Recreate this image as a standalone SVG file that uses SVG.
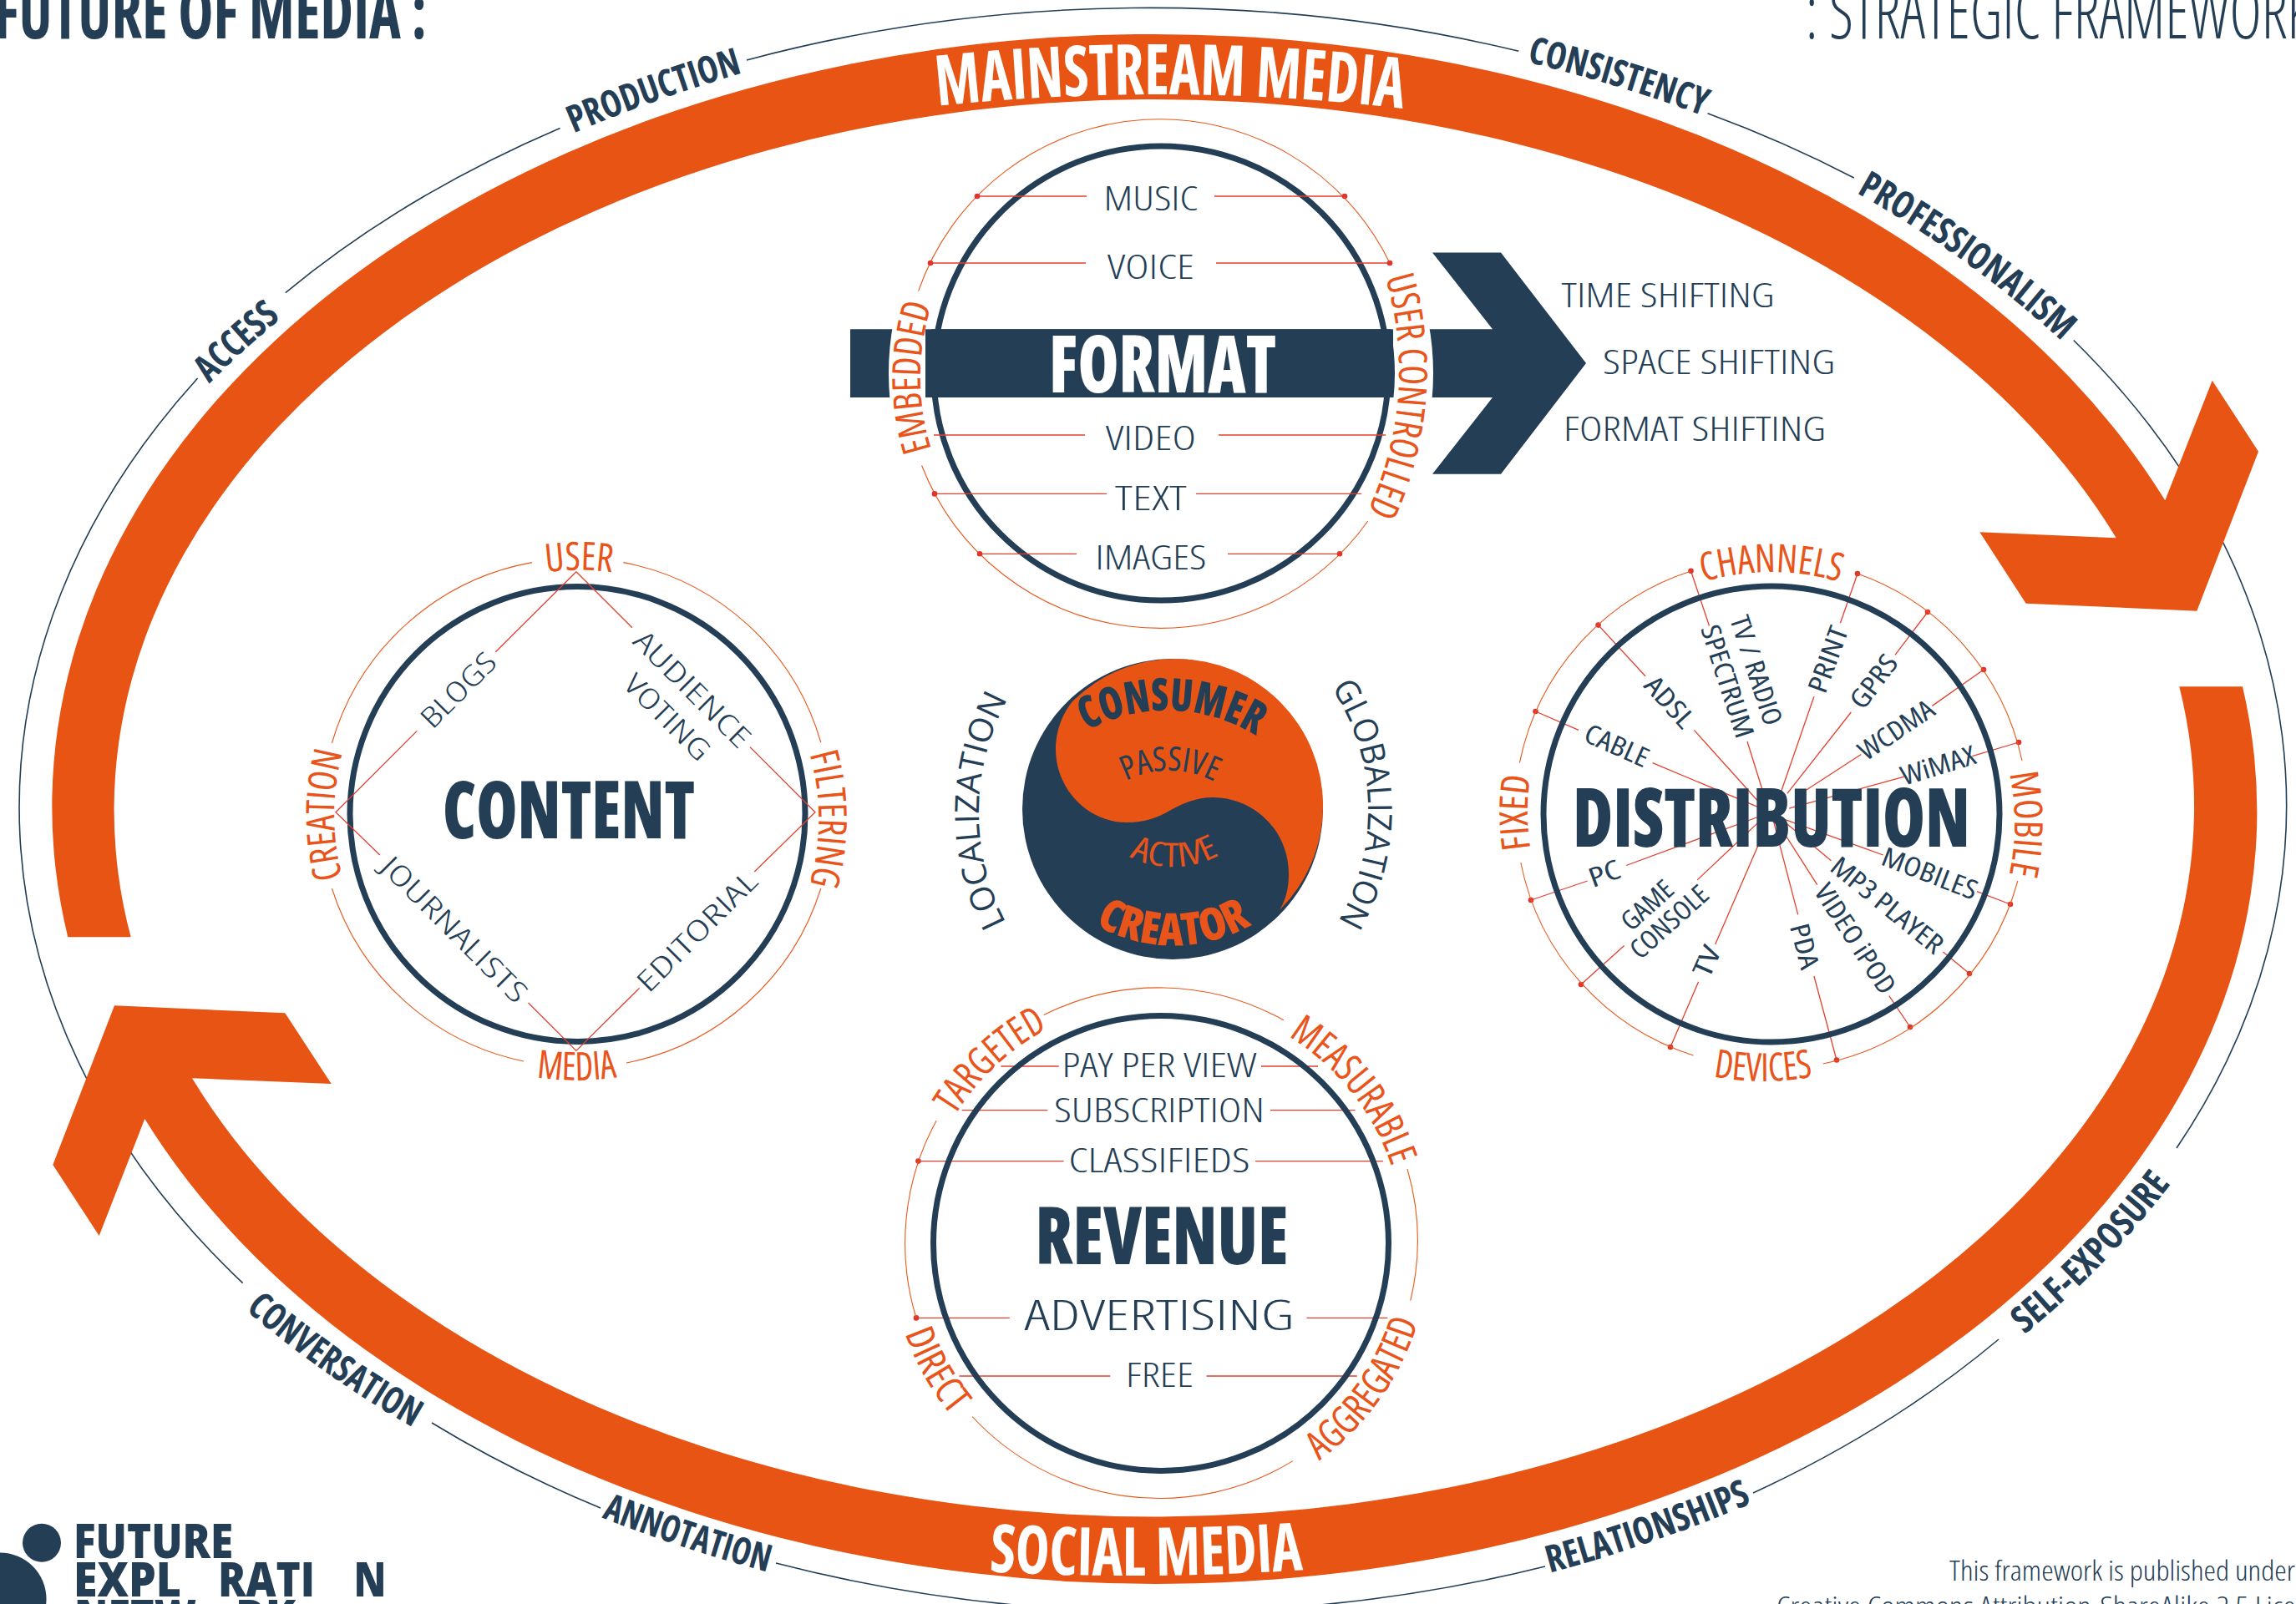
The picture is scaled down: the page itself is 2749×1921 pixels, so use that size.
<svg xmlns="http://www.w3.org/2000/svg" width="2749" height="1921" viewBox="0 0 2749 1921">
<style>
text{fill:#243e56;font-family:"Open Sans","Liberation Sans",sans-serif;text-anchor:middle}
.b{font-weight:700;font-stretch:75%}
.x{font-weight:800;font-stretch:75%}
.l{font-weight:300;font-stretch:75%}
.r{font-weight:400;font-stretch:75%}
.w{fill:#fff}
.o{fill:#e8541a}
.a{font-size:45px}
.n{font-size:40px}
.d{font-size:32px}
.e{font-size:34px}
.c{font-size:47px;font-weight:450}
.lg{font-weight:900;font-size:56px}
.ring{fill:none;stroke:#243e56;stroke-width:7}
.thin{fill:none;stroke:#e8581c;stroke-width:1.1}
.el{fill:none;stroke:#243e56;stroke-width:1.6}
.con{fill:none;stroke:#e4402e;stroke-width:1.3}
.dot{fill:#e0352b}
.band{fill:#e85413}
.navy{fill:#243e56}
</style>
<defs>
<path id="pAccess" d="M250 460A1150 1150 0 0 1 337 381"/>
<path id="pProd" d="M686 160A1800 1800 0 0 1 890 87"/>
<path id="pCons" d="M1827 74A1800 1800 0 0 1 2040 139"/>
<path id="pProf" d="M2221 230A1300 1300 0 0 1 2470 410"/>
<path id="pSelf" d="M2423 1599A1100 1100 0 0 0 2600 1417"/>
<path id="pRel" d="M1855 1884A1900 1900 0 0 0 2098 1800"/>
<path id="pAnn" d="M719 1817A1900 1900 0 0 0 920 1883"/>
<path id="pConv" d="M293 1568A1300 1300 0 0 0 495 1710"/>
<path id="pMain" d="M1122 127A2519 2519 0 0 1 1680 130"/>
<path id="pSoc" d="M1183 1882A3000 3000 0 0 0 1562 1880"/>
<path id="pEmb" d="M1140.6 596A288 288 0 0 1 1140.6 308"/>
<path id="pUC" d="M1642.5 288A391 391 0 0 1 1614 654"/>
<path id="pUser" d="M547 722A293 293 0 0 1 840 722"/>
<path id="pMedia" d="M531 1251A319 319 0 0 0 850 1251"/>
<path id="pCrea" d="M439.5 1122A291 291 0 0 1 439.5 830"/>
<path id="pFilt" d="M941.5 836.5A289 289 0 0 1 941.5 1125.5"/>
<path id="pChan" d="M1955 737.4A290 290 0 0 1 2287 737.4"/>
<path id="pDev" d="M1976 1265A320 320 0 0 0 2246 1265"/>
<path id="pFix" d="M1868 1118.5A291 291 0 0 1 1868 827.5"/>
<path id="pMob" d="M2373 841A292 292 0 0 1 2373 1133"/>
<path id="pTarg" d="M1121 1380A290 290 0 0 1 1300 1213"/>
<path id="pMeas" d="M1497 1218.4A291 291 0 0 1 1678 1446.6"/>
<path id="pDir" d="M1069.3 1542A325 325 0 0 0 1178.4 1735.7"/>
<path id="pAgg" d="M1523.5 1782A322 322 0 0 0 1710.5 1520"/>
<path id="pCsm" d="M1303 874A203 203 0 0 1 1502 880"/>
<path id="pPas" d="M1345 937A114 114 0 0 1 1457 938"/>
<path id="pAct" d="M1349 1024A114 114 0 0 0 1463 1022"/>
<path id="pCre" d="M1309 1106A188 188 0 0 0 1501 1106"/>
<path id="pLoc" d="M1202 1100A284 284 0 0 1 1204 842"/>
<path id="pGlo" d="M1595 825A266 266 0 0 1 1603 1102"/>
</defs>
<rect width="2749" height="1921" fill="#fff"/>

<g id="outer-ellipse">
<path class="el" d="M290.7 1536.7A1357 955 0 0 1 236.6 453M341.8 350.6A1357 955 0 0 1 670.5 153.4M894 71.9A1357 955 0 0 1 1818.3 61.3M2044.5 135.8A1357 955 0 0 1 2219.7 213M2482.7 407.5A1357 955 0 0 1 2606 1375M2393 1604A1357 955 0 0 1 2099 1788M1850 1876A1357 955 0 0 1 929 1872M719 1806A1357 955 0 0 1 517 1704"/>
</g>
<g id="mainstream-media">
<path class="band" d="M81.3 1122.3A1319 925 0 0 1 2592.3 599.3L2648.7 455.7L2704 540.7L2630.3 731.7L2425.7 722.7L2370.3 637.3L2533.7 644.3A1246 851 0 0 0 156.7 1122.3Z"/>
<text class="b w" font-size="84"><textPath href="#pMain" startOffset="50%" textLength="558" lengthAdjust="spacingAndGlyphs">MAINSTREAM MEDIA</textPath></text>
</g>
<g id="social-media">
<path class="band" d="M2685 822.3A1319 925 0 0 1 173.3 1340L118.7 1480L63.3 1395L137 1204.3L341.3 1213.3L396.7 1298L230 1291.3A1246 851 0 0 0 2609.3 822.3Z"/>
<text class="b w" font-size="80"><textPath href="#pSoc" startOffset="50%" textLength="376" lengthAdjust="spacingAndGlyphs">SOCIAL MEDIA</textPath></text>
</g>
<g id="outer-labels">
<text class="b a"><textPath href="#pAccess" startOffset="50%" textLength="116" lengthAdjust="spacingAndGlyphs">ACCESS</textPath></text>
<text class="b a"><textPath href="#pProd" startOffset="50%" textLength="215" lengthAdjust="spacingAndGlyphs">PRODUCTION</textPath></text>
<text class="b a"><textPath href="#pCons" startOffset="50%" textLength="221" lengthAdjust="spacingAndGlyphs">CONSISTENCY</textPath></text>
<text class="b a"><textPath href="#pProf" startOffset="50%" textLength="304" lengthAdjust="spacingAndGlyphs">PROFESSIONALISM</textPath></text>
<text class="b a"><textPath href="#pSelf" startOffset="50%" textLength="252" lengthAdjust="spacingAndGlyphs">SELF-EXPOSURE</textPath></text>
<text class="b a"><textPath href="#pRel" startOffset="50%" textLength="256" lengthAdjust="spacingAndGlyphs">RELATIONSHIPS</textPath></text>
<text class="b a"><textPath href="#pAnn" startOffset="50%" textLength="209" lengthAdjust="spacingAndGlyphs">ANNOTATION</textPath></text>
<text class="b a"><textPath href="#pConv" startOffset="50%" textLength="245" lengthAdjust="spacingAndGlyphs">CONVERSATION</textPath></text>
</g>

<g id="titles">
<text class="b" font-size="88" x="252" y="46" textLength="518" lengthAdjust="spacingAndGlyphs">FUTURE OF MEDIA :</text>
<text class="l" font-size="88" x="2465" y="46" textLength="606" lengthAdjust="spacingAndGlyphs">: STRATEGIC FRAMEWORK</text>
</g>

<g id="format">
<path class="navy" d="M1018 394.3H1787L1715 302.4H1797L1899 435L1797 567.8H1715L1787 476H1018Z"/>
<circle cx="1390" cy="447" r="303" fill="none" stroke="#fff" stroke-width="46"/>
<rect class="navy" x="1108" y="394.3" width="560" height="81.7"/>
<circle class="ring" cx="1390" cy="447" r="272"/>
<path class="thin" d="M1099.6 348.6A306 306 0 0 1 1664 315M1637.8 624A306 306 0 0 1 1103.6 557.5"/>
<text class="x w" font-size="96" x="1392" y="470" textLength="272" lengthAdjust="spacingAndGlyphs">FORMAT</text>
<text class="l n" x="1378" y="251.500" textLength="113" lengthAdjust="spacingAndGlyphs">MUSIC</text>
<text class="l n" x="1378" y="333.500" textLength="104" lengthAdjust="spacingAndGlyphs">VOICE</text>
<text class="l n" x="1378" y="538.500" textLength="108" lengthAdjust="spacingAndGlyphs">VIDEO</text>
<text class="l n" x="1378" y="610.500" textLength="86" lengthAdjust="spacingAndGlyphs">TEXT</text>
<text class="l n" x="1378" y="681.500" textLength="133" lengthAdjust="spacingAndGlyphs">IMAGES</text>
<text class="l n" x="1997" y="367.500" textLength="255" lengthAdjust="spacingAndGlyphs">TIME SHIFTING</text>
<text class="l n" x="2058" y="447.500" textLength="278" lengthAdjust="spacingAndGlyphs">SPACE SHIFTING</text>
<text class="l n" x="2029" y="527.500" textLength="314" lengthAdjust="spacingAndGlyphs">FORMAT SHIFTING</text>
<text class="r c o"><textPath href="#pEmb" startOffset="50%" textLength="175" lengthAdjust="spacingAndGlyphs">EMBEDDED</textPath></text>
<text class="r c o"><textPath href="#pUC" startOffset="50%" textLength="287" lengthAdjust="spacingAndGlyphs">USER CONTROLLED</textPath></text>
</g>

<g id="content">
<circle class="ring" cx="691.5" cy="975" r="272.5"/>
<path class="thin" d="M397.4 890A306 306 0 0 1 637 673.6M746.3 673.6A306 306 0 0 1 982.8 889M982.8 1064A306 306 0 0 1 750 1273M627 1271A306 306 0 0 1 397.4 1064"/>
<text class="x" font-size="96" x="681" y="1004" textLength="302" lengthAdjust="spacingAndGlyphs">CONTENT</text>
<text class="l e" transform="translate(548.9 826.3) rotate(-45)" y="12" textLength="112" lengthAdjust="spacingAndGlyphs">BLOGS</text>
<text class="l e" transform="translate(829 825.5) rotate(45)" y="12" textLength="182" lengthAdjust="spacingAndGlyphs">AUDIENCE</text>
<text class="l e" transform="translate(799 859) rotate(45)" y="12" textLength="130" lengthAdjust="spacingAndGlyphs">VOTING</text>
<text class="l e" transform="translate(544 1113.3) rotate(45)" y="12" textLength="232" lengthAdjust="spacingAndGlyphs">JOURNALISTS</text>
<text class="l e" transform="translate(834.5 1115.5) rotate(-45)" y="12" textLength="188" lengthAdjust="spacingAndGlyphs">EDITORIAL</text>
<text class="r c o"><textPath href="#pUser" startOffset="50%" textLength="79" lengthAdjust="spacingAndGlyphs">USER</textPath></text>
<text class="r c o"><textPath href="#pMedia" startOffset="50%" textLength="97" lengthAdjust="spacingAndGlyphs">MEDIA</textPath></text>
<text class="r c o"><textPath href="#pCrea" startOffset="50%" textLength="151" lengthAdjust="spacingAndGlyphs">CREATION</textPath></text>
<text class="r c o"><textPath href="#pFilt" startOffset="50%" textLength="158" lengthAdjust="spacingAndGlyphs">FILTERING</textPath></text>
</g>

<g id="connectors">
<path class="con" d="M689.9 684.7L593.4 780.7M499.3 875.4L402 972.7L454.8 1024M632.5 1201L689.9 1258.4L765.6 1183.4M903.3 1044L976 972.7L897.9 894.6M756.9 751.7L689.9 684.7"/>
<path class="con" d="M1170 235H1301M1454 235H1610M1114 315H1300M1456 315H1664M1118 521H1299M1459 521H1659M1119 591.4H1325M1432 591.4H1630M1173 663.3H1289M1470 663.3H1604"/>
<path class="con" d="M1198.5 1277H1267.7M1510 1277H1578M1151.6 1329.6H1254.3M1521 1329.6H1622.6M1099.4 1390.6H1273.5M1503 1390.6H1656M1097 1578.4H1208.8M1564.5 1578.4H1661.4M1148.5 1648H1329.3M1444.5 1648H1624.8"/>
<path class="con" d="M2024.5 683.8L2046.5 749.5M2092 888L2111 949M2224 687L2203.4 746.3M2171.9 834.3L2132.6 948M2308 733L2269 784.3M2216.3 853L2139.8 950.3M2375 802L2313.4 845.4M2228.3 903.5L2149.4 954.8M2417 889L2361.3 905.7M2280 930.2L2142.2 968.2M2407 1083L2367 1067.7M2254.6 1024L2137.4 981.6M2358 1166L2326.4 1140M2192.4 1030.7L2127.9 977M2287 1230L2261.8 1192.7M2175.7 1059.7L2123 977M2199 1269.5L2171.9 1169M2152.7 1095.4L2123 981.6M2000 1254L2033.6 1175.8M2053.7 1131L2108.7 1004M1893 1179L1944.7 1132.5M2032.2 1053.9L2108.7 981.6M1833 1078L1900.7 1055M1947 1036.5L2108.7 977M1838.5 852L1890.1 874.4M1978.6 913.7L2108.7 968.2M1913.6 748.6L1970 809.7M2028.4 874.4L2108.7 963.7"/>
</g>
<g id="connector-dots">
<circle class="dot" cx="1170" cy="235" r="3.3"/><circle class="dot" cx="1610" cy="235" r="3.3"/><circle class="dot" cx="1114" cy="315" r="3.3"/><circle class="dot" cx="1664" cy="315" r="3.3"/><circle class="dot" cx="1119" cy="591.4" r="3.3"/><circle class="dot" cx="1173" cy="663.3" r="3.3"/><circle class="dot" cx="1604" cy="663.3" r="3.3"/>
<circle class="dot" cx="1099.4" cy="1390.6" r="3.3"/><circle class="dot" cx="1097" cy="1578.4" r="3.3"/>
<circle class="dot" cx="2024.5" cy="683.8" r="3.3"/><circle class="dot" cx="2224" cy="687" r="3.3"/><circle class="dot" cx="2308" cy="733" r="3.3"/><circle class="dot" cx="2375" cy="802" r="3.3"/><circle class="dot" cx="2417" cy="889" r="3.3"/><circle class="dot" cx="2407" cy="1083" r="3.3"/><circle class="dot" cx="2358" cy="1166" r="3.3"/><circle class="dot" cx="2287" cy="1230" r="3.3"/><circle class="dot" cx="2199" cy="1269.5" r="3.3"/><circle class="dot" cx="2000" cy="1254" r="3.3"/><circle class="dot" cx="1893" cy="1179" r="3.3"/><circle class="dot" cx="1833" cy="1078" r="3.3"/><circle class="dot" cx="1838.5" cy="852" r="3.3"/><circle class="dot" cx="1913.6" cy="748.6" r="3.3"/>
</g>

<g id="distribution">
<circle class="ring" cx="2121" cy="975" r="273"/>
<path class="thin" d="M2224 687A305 305 0 0 1 2421 911M2415.8 1055A305 305 0 0 1 2182.8 1274M2027.4 1264A305 305 0 0 1 1820.8 1033M1819.4 913.7A305 305 0 0 1 2024.5 684"/>
<text class="x" font-size="98" x="2121" y="1014" textLength="476" lengthAdjust="spacingAndGlyphs">DISTRIBUTION</text>
<text class="r d" transform="translate(2102.5 803) rotate(72)" y="11" textLength="136" lengthAdjust="spacingAndGlyphs">TV / RADIO</text>
<text class="r d" transform="translate(2068 816) rotate(72)" y="11" textLength="140" lengthAdjust="spacingAndGlyphs">SPECTRUM</text>
<text class="r d" transform="translate(2189 790) rotate(-70)" y="11" textLength="82" lengthAdjust="spacingAndGlyphs">PRINT</text>
<text class="r d" transform="translate(2243.6 816.4) rotate(-53)" y="11" textLength="72" lengthAdjust="spacingAndGlyphs">GPRS</text>
<text class="r d" transform="translate(2270.4 874.4) rotate(-34)" y="11" textLength="102" lengthAdjust="spacingAndGlyphs">WCDMA</text>
<text class="r d" transform="translate(2320.6 917) rotate(-17)" y="11" textLength="92" lengthAdjust="spacingAndGlyphs">WiMAX</text>
<text class="r d" transform="translate(2310.5 1046.3) rotate(21)" y="11" textLength="120" lengthAdjust="spacingAndGlyphs">MOBILES</text>
<text class="r d" transform="translate(2259.4 1084.3) rotate(39)" y="11" textLength="163" lengthAdjust="spacingAndGlyphs">MP3 PLAYER</text>
<text class="r d" transform="translate(2221 1124.4) rotate(57)" y="11" textLength="150" lengthAdjust="spacingAndGlyphs">VIDEO iPOD</text>
<text class="r d" transform="translate(2160.4 1133.4) rotate(75.5)" y="11" textLength="55" lengthAdjust="spacingAndGlyphs">PDA</text>
<text class="r d" transform="translate(2044 1151.2) rotate(-66)" y="11" textLength="37" lengthAdjust="spacingAndGlyphs">TV</text>
<text class="r d" transform="translate(1972.4 1084.3) rotate(-42)" y="11" textLength="72" lengthAdjust="spacingAndGlyphs">GAME</text>
<text class="r d" transform="translate(1998.7 1104.3) rotate(-42)" y="11" textLength="114" lengthAdjust="spacingAndGlyphs">CONSOLE</text>
<text class="r d" transform="translate(1921.2 1046.3) rotate(-20)" y="11" textLength="38" lengthAdjust="spacingAndGlyphs">PC</text>
<text class="r d" transform="translate(1935.6 893.2) rotate(24)" y="11" textLength="81" lengthAdjust="spacingAndGlyphs">CABLE</text>
<text class="r d" transform="translate(1998.7 841) rotate(48)" y="11" textLength="71" lengthAdjust="spacingAndGlyphs">ADSL</text>
<text class="r c o"><textPath href="#pChan" startOffset="50%" textLength="165" lengthAdjust="spacingAndGlyphs">CHANNELS</textPath></text>
<text class="r c o"><textPath href="#pDev" startOffset="50%" textLength="120" lengthAdjust="spacingAndGlyphs">DEVICES</textPath></text>
<text class="r c o"><textPath href="#pFix" startOffset="50%" textLength="87" lengthAdjust="spacingAndGlyphs">FIXED</textPath></text>
<text class="r c o"><textPath href="#pMob" startOffset="50%" textLength="122" lengthAdjust="spacingAndGlyphs">MOBILE</textPath></text>
</g>

<g id="revenue">
<circle class="ring" cx="1390" cy="1489" r="272.5"/>
<path class="thin" d="M1249.8 1215.6A306 306 0 0 1 1536.9 1221.8M1685 1400A306 306 0 0 1 1688.7 1557.6M1548 1749.6A306 306 0 0 1 1164 1696.5M1097 1578.4A306 306 0 0 1 1121.2 1342"/>
<text class="x" font-size="96" x="1391" y="1514" textLength="303" lengthAdjust="spacingAndGlyphs">REVENUE</text>
<text class="l n" x="1388" y="1290" textLength="233" lengthAdjust="spacingAndGlyphs">PAY PER VIEW</text>
<text class="l n" x="1388" y="1343.500" textLength="252" lengthAdjust="spacingAndGlyphs">SUBSCRIPTION</text>
<text class="l n" x="1388" y="1403.500" textLength="217" lengthAdjust="spacingAndGlyphs">CLASSIFIEDS</text>
<text class="l" font-size="50" x="1388" y="1592.500" textLength="323" lengthAdjust="spacingAndGlyphs">ADVERTISING</text>
<text class="l n" x="1388.500" y="1661" textLength="81" lengthAdjust="spacingAndGlyphs">FREE</text>
<text class="r c o"><textPath href="#pTarg" startOffset="50%" textLength="154" lengthAdjust="spacingAndGlyphs">TARGETED</textPath></text>
<text class="r c o"><textPath href="#pMeas" startOffset="50%" textLength="203" lengthAdjust="spacingAndGlyphs">MEASURABLE</textPath></text>
<text class="r c o"><textPath href="#pDir" startOffset="50%" textLength="113" lengthAdjust="spacingAndGlyphs">DIRECT</textPath></text>
<text class="r c o"><textPath href="#pAgg" startOffset="50%" textLength="207" lengthAdjust="spacingAndGlyphs">AGGREGATED</textPath></text>
</g>

<g id="consumer-creator">
<circle class="navy" cx="1404" cy="969" r="180"/>
<path class="band" d="M1284 840A176 176 0 0 1 1532 1090C1541 1075 1543 1060 1543 1047C1543 995 1502 955 1452 955C1432 955 1417 962 1402 970C1387 979 1370 985 1349 985C1302 985 1264 945 1264 897C1264 875 1272 855 1284 840Z"/>
<text class="x" font-size="54"><textPath href="#pCsm" startOffset="50%" textLength="212" lengthAdjust="spacingAndGlyphs">CONSUMER</textPath></text>
<text class="r" font-size="40"><textPath href="#pPas" startOffset="50%" textLength="110" lengthAdjust="spacingAndGlyphs">PASSIVE</textPath></text>
<text class="r o" font-size="40"><textPath href="#pAct" startOffset="50%" textLength="112" lengthAdjust="spacingAndGlyphs">ACTIVE</textPath></text>
<text class="x o" font-size="54"><textPath href="#pCre" startOffset="50%" textLength="196" lengthAdjust="spacingAndGlyphs">CREATOR</textPath></text>
<text class="r" font-size="40" style="font-stretch:100%"><textPath href="#pLoc" startOffset="50%" textLength="279" lengthAdjust="spacingAndGlyphs">LOCALIZATION</textPath></text>
<text class="r" font-size="40" style="font-stretch:100%"><textPath href="#pGlo" startOffset="50%" textLength="295" lengthAdjust="spacingAndGlyphs">GLOBALIZATION</textPath></text>
</g>

<g id="logo">
<circle class="navy" cx="50" cy="1847.7" r="23"/>
<circle class="navy" cx="0" cy="1915" r="55.5"/>
<text class="lg" x="183.500" y="1866" textLength="191" lengthAdjust="spacingAndGlyphs">FUTURE</text>
<text class="lg" x="152.500" y="1911.7" textLength="129" lengthAdjust="spacingAndGlyphs">EXPL</text>
<text class="lg" x="319" y="1911.7" textLength="116" lengthAdjust="spacingAndGlyphs">RATI</text>
<text class="lg" x="443" y="1911.7" textLength="39" lengthAdjust="spacingAndGlyphs">N</text>
<text class="lg" x="162" y="1957" textLength="146" lengthAdjust="spacingAndGlyphs">NETW</text>
<text class="lg" x="318" y="1957" textLength="72" lengthAdjust="spacingAndGlyphs">RK</text>
</g>

<g id="licence">
<text class="l" font-size="33" x="2541" y="1893" textLength="414" lengthAdjust="spacingAndGlyphs">This framework is published under</text>
<text class="l" font-size="33" x="2460" y="1936" textLength="666" lengthAdjust="spacingAndGlyphs">Creative Commons Attribution-ShareAlike 2.5 License</text>
</g>
</svg>
